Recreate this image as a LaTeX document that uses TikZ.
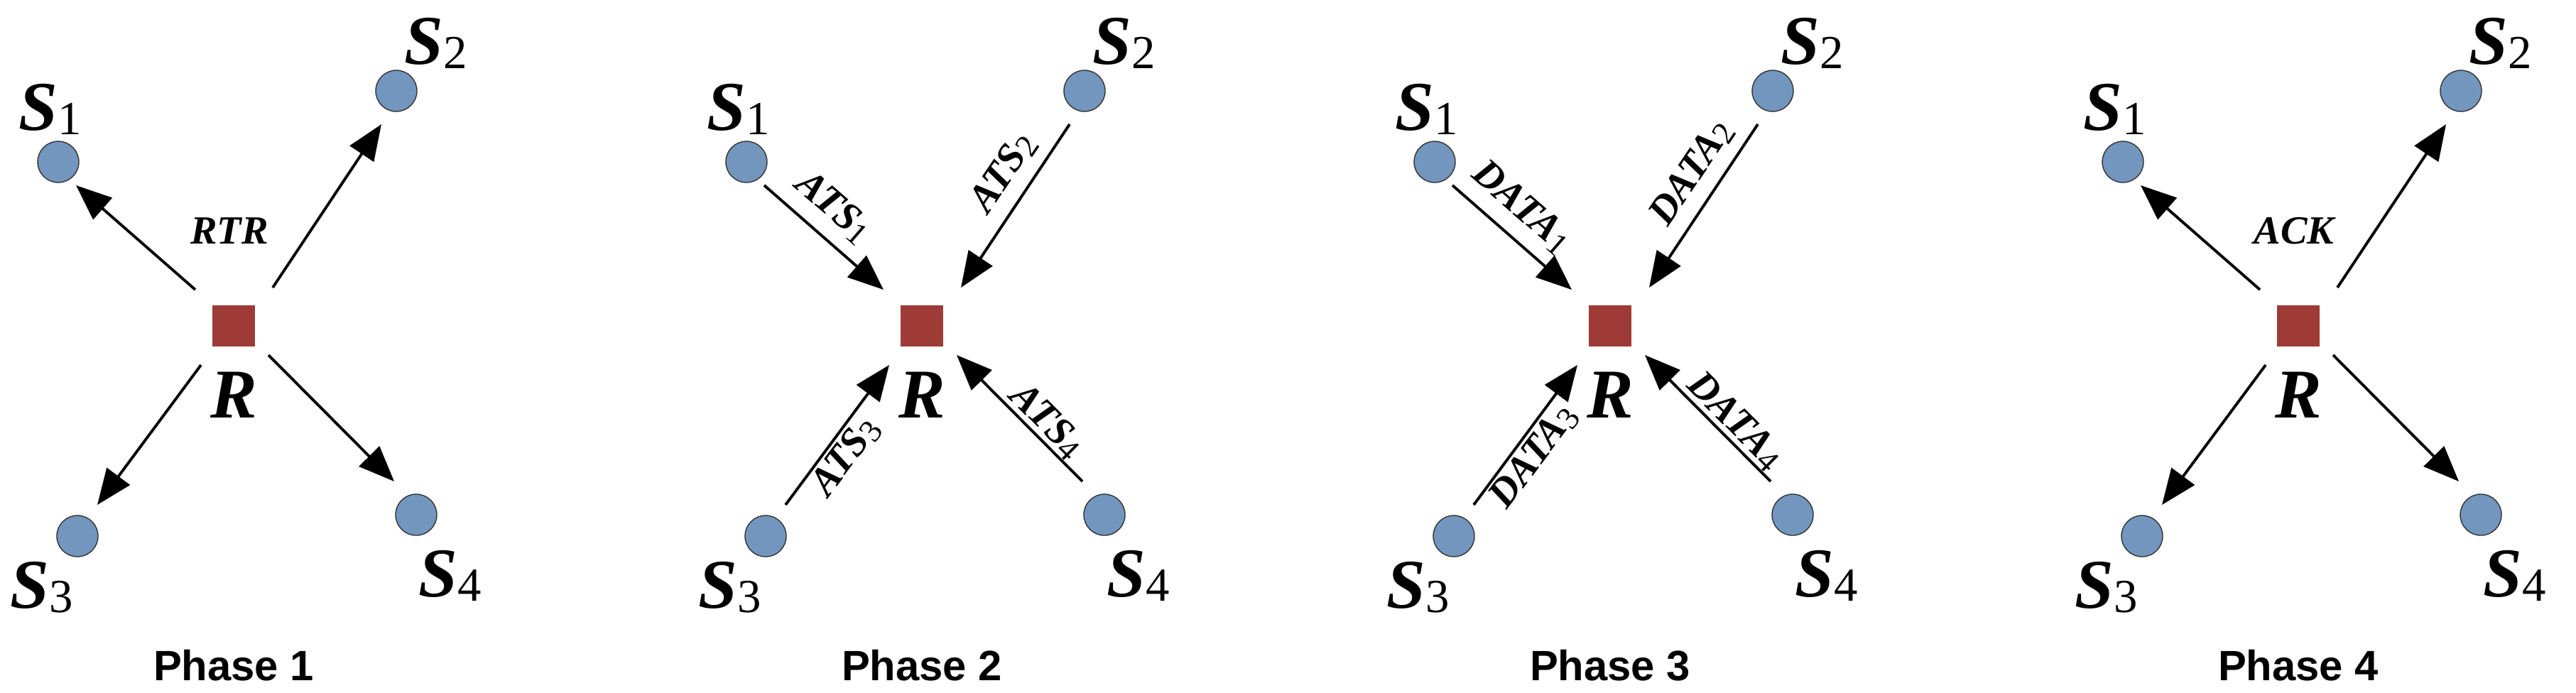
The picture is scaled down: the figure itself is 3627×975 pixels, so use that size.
\documentclass[tikz,border=0pt]{standalone}
\usepackage{fontspec}
\setmainfont{Liberation Serif}
\newfontfamily\phasefont{Liberation Sans}
\usetikzlibrary{arrows.meta}
\definecolor{dotc}{HTML}{7396BF}
\definecolor{sqc}{HTML}{9E3B36}
\tikzset{
 dot/.style={circle,draw=black!80,line width=0.4pt,fill=dotc,minimum size=0.58cm,inner sep=0pt},
 sq/.style={rectangle,fill=sqc,minimum width=0.6cm,minimum height=0.58cm,inner sep=0pt},
 arr/.style={line width=1.1pt,-{Triangle[length=0.5cm,width=0.4cm]}},
 slab/.style={inner sep=0pt},
 elab/.style={inner sep=1pt,font=\fontsize{16}{16}\selectfont\bfseries\itshape},
 plab/.style={inner sep=0pt,font=\phasefont\fontsize{17}{17}\selectfont\bfseries},
}
\newcommand\Slab[1]{{\fontsize{28}{28}\selectfont\bfseries\itshape S}\raisebox{-0.35ex}{\fontsize{19}{19}\selectfont #1}}
\newcommand\Elab[2]{#1\raisebox{-0.25ex}{\fontsize{13}{13}\selectfont\normalfont #2}}
\newcommand\phasebase[3]{%
\begin{scope}[shift={(#2,459)}]
\node[sq] (#1R) at (0,0) {};
\node[dot] (#1S1) at (-247,-231) {};
\node[dot] (#1S2) at (229,-331) {};
\node[dot] (#1S3) at (-220,296) {};
\node[dot] (#1S4) at (257,266) {};
\node[slab] (#1L1) at (-258,-305) {\Slab{1}};
\node[slab] (#1L2) at (285,-398) {\Slab{2}};
\node[slab] (#1L3) at (-270,368) {\Slab{3}};
\node[slab] (#1L4) at (305,352) {\Slab{4}};
\node[slab,font=\fontsize{28}{28}\selectfont\bfseries\itshape] (#1LR) at (0,97) {R};
\node[plab] (#1P) at (0,478) {Phase #3};
\coordinate (#1c1) at (-54,-51); \coordinate (#1f1) at (-222,-198);
\coordinate (#1c2) at (55,-54);  \coordinate (#1f2) at (208,-284);
\coordinate (#1c3) at (-46,55);  \coordinate (#1f3) at (-192,252);
\coordinate (#1c4) at (49,41);   \coordinate (#1f4) at (226,219);
\coordinate (#1t0) at (-6,-134);
\coordinate (#1t1) at (-124,-167);
\coordinate (#1t2) at (115,-216);
\coordinate (#1t3) at (-107,184);
\coordinate (#1t4) at (176,134);
\end{scope}}
\begin{document}
\begin{tikzpicture}[x=0.01cm,y=-0.01cm]
\useasboundingbox (0,0) rectangle (3627,975);
\phasebase{a}{329}{1}
\phasebase{b}{1298}{2}
\phasebase{c}{2267}{3}
\phasebase{d}{3236}{4}
% Phase 1
\foreach \i in {1,2,3,4} {\draw[arr] (ac\i) -- (af\i);}
\node[elab] (aRTR) at (at0) {RTR};
% Phase 2
\foreach \i in {1,2,3,4} {\draw[arr] (bf\i) -- (bc\i);}
\node[elab,rotate=-41] (bA1) at (bt1) {\Elab{ATS}{1}};
\node[elab,rotate=56] (bA2) at (bt2) {\Elab{ATS}{2}};
\node[elab,rotate=53] (bA3) at (bt3) {\Elab{ATS}{3}};
\node[elab,rotate=-45] (bA4) at (bt4) {\Elab{ATS}{4}};
% Phase 3
\foreach \i in {1,2,3,4} {\draw[arr] (cf\i) -- (cc\i);}
\node[elab,rotate=-41] (cD1) at (ct1) {\Elab{DATA}{1}};
\node[elab,rotate=56] (cD2) at (ct2) {\Elab{DATA}{2}};
\node[elab,rotate=53] (cD3) at (ct3) {\Elab{DATA}{3}};
\node[elab,rotate=-45] (cD4) at (ct4) {\Elab{DATA}{4}};
% Phase 4
\foreach \i in {1,2,3,4} {\draw[arr] (dc\i) -- (df\i);}
\node[elab] (dACK) at (dt0) {ACK};
\end{tikzpicture}
\end{document}
